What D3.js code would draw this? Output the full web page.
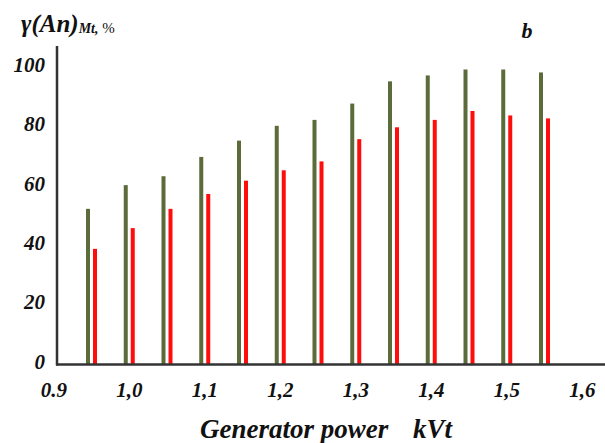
<!DOCTYPE html>
<html>
<head>
<meta charset="utf-8">
<script src="https://cdn.jsdelivr.net/npm/d3@7"></script>
<style>
  html, body { margin: 0; padding: 0; background: #fff; }
  svg { display: block; }
</style>
</head>
<body>
<div id="chart"></div>
<script>
// --- Data ---
const powers = [0.95, 1.0, 1.05, 1.1, 1.15, 1.2, 1.25, 1.3, 1.35, 1.4, 1.45, 1.5, 1.55];
const greenValues = [52.5, 60.5, 63.5, 70, 75.5, 80.5, 82.5, 88, 95.5, 97.5, 99.5, 99.5, 98.5];
const redValues = [39, 46, 52.5, 57.5, 62, 65.5, 68.5, 76, 80, 82.5, 85.5, 84, 83];
const xTicks = [0.9, 1.0, 1.1, 1.2, 1.3, 1.4, 1.5, 1.6];
const xTickLabels = ['0.9', '1,0', '1,1', '1,2', '1,3', '1,4', '1,5', '1,6'];
const yTicks = [0, 20, 40, 60, 80, 100];

const W = 605, H = 443;
const axisX = 57, axisTop = 46;
const FONT = 'Liberation Serif, DejaVu Serif, serif';

const svg = d3.select('#chart').append('svg')
    .attr('width', W).attr('height', H);

const x = d3.scaleLinear().domain([0.9, 1.6]).range([53.75, 582.25]);
const y = d3.scaleLinear().domain([0, 100]).range([364.5, 68]);

const barW = 4;
const gap = 3.5; // half distance between green and red bar centres

function label(sel, size) {
    return sel.attr('font-family', FONT)
        .attr('font-style', 'italic')
        .attr('font-weight', 'bold')
        .attr('font-size', size)
        .attr('fill', '#111');
}

// Bars
svg.append('g').selectAll('rect')
    .data(powers)
    .join('rect')
    .attr('x', (d) => x(d) - gap - barW / 2)
    .attr('y', (d, i) => y(greenValues[i]))
    .attr('width', barW)
    .attr('height', (d, i) => y(0) - y(greenValues[i]))
    .attr('fill', '#5b6c3a');

svg.append('g').selectAll('rect')
    .data(powers)
    .join('rect')
    .attr('x', (d) => x(d) + gap - barW / 2)
    .attr('y', (d, i) => y(redValues[i]))
    .attr('width', barW)
    .attr('height', (d, i) => y(0) - y(redValues[i]))
    .attr('fill', '#ff0d0d');

// Axes lines
svg.append('line')
    .attr('x1', axisX).attr('x2', axisX)
    .attr('y1', axisTop).attr('y2', y(0) + 1)
    .attr('stroke', '#333').attr('stroke-width', 2.5);
svg.append('line')
    .attr('x1', axisX - 1).attr('x2', W)
    .attr('y1', y(0)).attr('y2', y(0))
    .attr('stroke', '#333').attr('stroke-width', 2.5);

// Y tick labels
svg.append('g').selectAll('text')
    .data(yTicks)
    .join('text')
    .call(label, 21)
    .attr('x', 45)
    .attr('y', (d) => y(d) + 4)
    .attr('text-anchor', 'end')
    .text((d) => d);

// X tick labels
svg.append('g').selectAll('text')
    .data(xTicks)
    .join('text')
    .call(label, 21)
    .attr('x', (d) => x(d))
    .attr('y', 397)
    .attr('text-anchor', 'middle')
    .text((d, i) => xTickLabels[i]);

// Y title
const yt = svg.append('text').call(label, 25)
    .attr('x', 21).attr('y', 32);
yt.append('tspan').text('γ(An)');
yt.append('tspan').attr('dy', 1).attr('font-size', 14).text('Mt,');
yt.append('tspan').attr('font-size', 15).attr('font-weight', 'normal').attr('font-style', 'normal').text(' %');

// Panel letter
svg.append('text').call(label, 22)
    .attr('x', 527).attr('y', 38)
    .attr('text-anchor', 'middle')
    .text('b');

// X title
svg.append('text').call(label, 27)
    .attr('x', 200).attr('y', 438)
    .text('Generator power');
svg.append('text').call(label, 27)
    .attr('x', 413).attr('y', 438)
    .text('kVt');
</script>
</body>
</html>
